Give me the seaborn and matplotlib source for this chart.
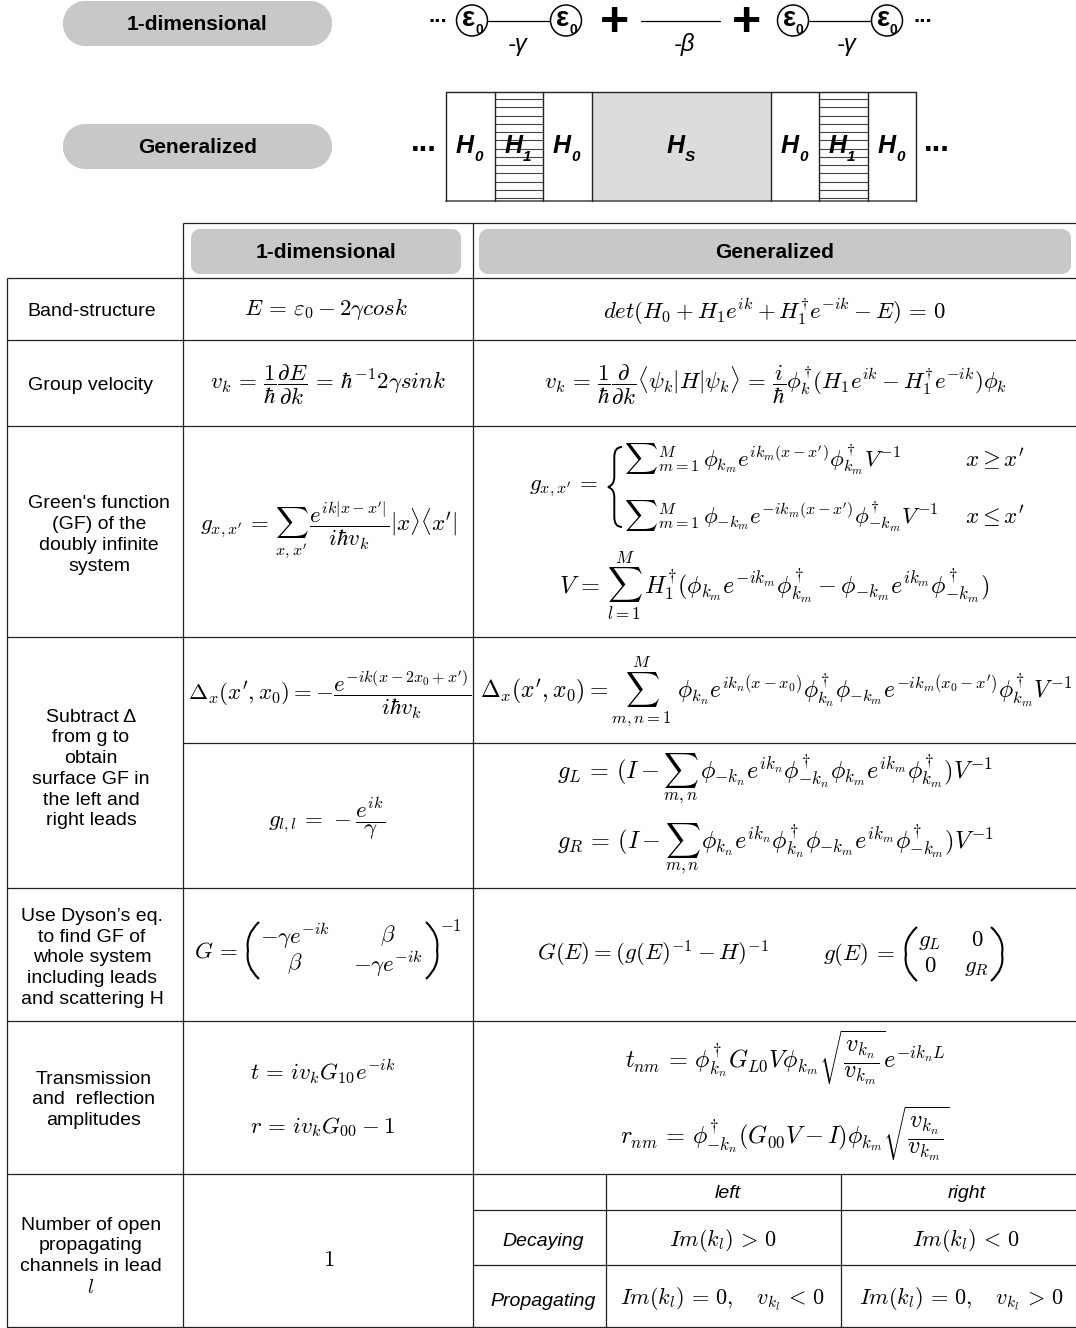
import matplotlib
matplotlib.use('Agg')
import matplotlib.pyplot as plt
import seaborn as sns
from matplotlib.patches import Circle, Rectangle, PathPatch
from matplotlib.path import Path

sns.set_theme(style='white')
plt.rcParams['font.family'] = ['Liberation Sans', 'DejaVu Sans']
plt.rcParams['mathtext.fontset'] = 'cm'

W, H = 1076, 1328

# row labels on the left of the table
row_labels = [
    (92, 311, 'Band-structure'),
    (91, 385, 'Group velocity'),
    (99, 535, "Green's function\n(GF) of the\ndoubly infinite\nsystem"),
    (91, 769, 'Subtract Δ\nfrom g to\nobtain\nsurface GF in\nthe left and\nright leads'),
    (92, 958, 'Use Dyson’s eq.\nto find GF of\nwhole system\nincluding leads\nand scattering H'),
    (94, 1100, 'Transmission\nand  reflection\namplitudes'),
    (91, 1257, 'Number of open\npropagating\nchannels in lead\n$\\mathit{l}$'),
]
pills = [
    (63, 1, 269, 45, 22, '1-dimensional'),
    (63, 124, 269, 45, 22, 'Generalized'),
]
headers = [
    (191, 229, 270, 45, 9, '1-dimensional'),
    (479, 229, 592, 45, 9, 'Generalized'),
]
# middle column equations: x, y, text, size
eq_1d = [
    (326, 309, r'$E\,=\,\varepsilon_0-2\gamma cosk$', 16.5),
    (328, 385, r'$v_k\,=\,\dfrac{1}{\hbar}\dfrac{\partial E}{\partial k}\,=\,\hbar^{-1}2\gamma sink$', 16.5),
    (329, 530, r"$g_{x,x'}\,=\,\sum_{x,x'}\,\dfrac{e^{ik|x-x'|}}{i\hbar v_k}|x\rangle\langle x'|$", 16.5),
    (330, 695, r"$\Delta_x(x',x_0)=-\dfrac{e^{-ik(x-2x_0+x')}}{i\hbar v_k}$", 16.5),
    (327, 819, r'$g_{l,l}\,=\,-\dfrac{e^{ik}}{\gamma}$', 16.5),
    (323, 1072, r'$t\,=\,iv_kG_{10}e^{-ik}$', 16.5),
    (322, 1127, r'$r\,=\,iv_kG_{00}-1$', 16.5),
    (329, 1260, r'$1$', 16.5),
]
# right column equations
eq_gen = [
    (775, 311, r'$det(H_0+H_1e^{ik}+H_1^{\dagger}e^{-ik}-E)\,=\,0$', 16.5),
    (775, 385, r'$v_k\,=\,\dfrac{1}{\hbar}\dfrac{\partial}{\partial k}\langle\psi_k|H|\psi_k\rangle\,=\,\dfrac{i}{\hbar}\phi_k^{\dagger}(H_1e^{ik}-H_1^{\dagger}e^{-ik})\phi_k$', 16.5),
    (563, 488, r"$g_{x,x'}\,=$", 16.5),
    (774, 586, r'$V\,=\,\sum_{l=1}^{M}\,H_1^{\dagger}(\phi_{k_m}e^{-ik_m}\phi_{k_m}^{\dagger}-\phi_{-k_m}e^{ik_m}\phi_{-k_m}^{\dagger})$', 17.5),
    (776, 692, r"$\Delta_x(x',x_0)=\sum_{m,n=1}^{M}\ \phi_{k_n}e^{ik_n(x-x_0)}\phi_{k_n}^{\dagger}\phi_{-k_m}e^{-ik_m(x_0-x')}\phi_{k_m}^{\dagger}V^{-1}$", 17),
    (775, 779, r'$g_L\,=\,(I-\sum_{m,n}\,\phi_{-k_n}e^{ik_n}\phi_{-k_n}^{\dagger}\phi_{k_m}e^{ik_m}\phi_{k_m}^{\dagger})V^{-1}$', 17.5),
    (775, 849, r'$g_R\,=\,(I-\sum_{m,n}\,\phi_{k_n}e^{ik_n}\phi_{k_n}^{\dagger}\phi_{-k_m}e^{ik_m}\phi_{-k_m}^{\dagger})V^{-1}$', 17.5),
    (653, 954, r'$G(E)=(g(E)^{-1}-H)^{-1}$', 16.5),
    (785, 1058, r'$t_{nm}\,=\,\phi_{k_n}^{\dagger}G_{L0}V\phi_{k_m}\sqrt{\dfrac{v_{k_n}}{v_{k_m}}}e^{-ik_nL}$', 17.5),
    (785, 1134, r'$r_{nm}\,=\,\phi_{-k_n}^{\dagger}(G_{00}V-I)\phi_{k_m}\sqrt{\dfrac{v_{k_n}}{v_{k_m}}}$', 17.5),
]
cases = [
    (624, 459, r"${\sum}_{m=1}^{M}\,\phi_{k_m}e^{ik_m(x-x')}\phi_{k_m}^{\dagger}V^{-1}$"),
    (624, 516, r"${\sum}_{m=1}^{M}\,\phi_{-k_m}e^{-ik_m(x-x')}\phi_{-k_m}^{\dagger}V^{-1}$"),
    (965, 459, r"$x\geq x'$"),
    (965, 516, r"$x\leq x'$"),
]
# lead table at the bottom right
lead_text = [
    (728, 1194, 'left'), (967, 1194, 'right'),
    (543, 1242, 'Decaying'), (543, 1301, 'Propagating'),
]
lead_eq = [
    (723, 1240, r'$Im(k_l)\,>\,0$'),
    (966, 1240, r'$Im(k_l)\,<\,0$'),
    (722, 1299, r'$Im(k_l)\,=\,0,\ \ \ v_{k_l}\,<\,0$'),
    (961, 1299, r'$Im(k_l)\,=\,0,\ \ \ v_{k_l}\,>\,0$'),
]

# table rules: y, x start, x end
h_rules = [
    (223, 183, W), (278, 7, W), (340, 7, W), (426, 7, W), (637, 7, W), (743, 183, W),
    (888, 7, W), (1021, 7, W), (1173.5, 7, W), (1210, 473, W), (1265, 473, W), (1327, 7, W),
]
v_rules = [(7, 278, 1328), (183, 223, 1328), (473, 223, 1328), (606, 1174, 1328), (841, 1174, 1328)]

# top diagram
site_x = [472, 566, 793, 887]
bonds = [(488, 551), (641, 720), (809, 872)]
bond_labels = [(518, 45, '-γ'), (684, 44, '-β'), (847, 45, '-γ')]
cell_edges = [446, 495, 543, 592, 771, 819, 868, 916]
cell_labels = [(470, '0'), (519, '1'), (567, '0'), (681, 'S'), (795, '0'), (843, '1'), (892, '0')]

fig = plt.figure(figsize=(W / 100, H / 100), dpi=100)
ax = fig.add_axes([0, 0, 1, 1])
ax.set_xlim(0, W)
ax.set_ylim(H, 0)
ax.axis('off')

GREY = '#c8c8c8'


def rounded(x, y, w, h, r):
    # box with real circular corners
    ax.add_patch(Rectangle((x + r, y), w - 2 * r, h, fc=GREY, ec='none'))
    ax.add_patch(Rectangle((x, y + r), w, h - 2 * r, fc=GREY, ec='none'))
    for cx in (x + r, x + w - r):
        for cy in (y + r, y + h - r):
            ax.add_patch(Circle((cx, cy), r, fc=GREY, ec='none'))


def brace(x, y0, y1, w=14):
    # left curly brace, x is the tip
    ym = (y0 + y1) / 2
    verts = [(x + w, y0), (x + w * 0.45, y0), (x + w * 0.45, y0 + 10),
             (x + w * 0.45, ym - 10), (x + w * 0.45, ym - 2), (x, ym),
             (x + w * 0.45, ym + 2), (x + w * 0.45, ym + 10),
             (x + w * 0.45, y1 - 10), (x + w * 0.45, y1), (x + w, y1)]
    codes = [Path.MOVETO] + [Path.CURVE3, Path.CURVE3] + [Path.LINETO] + [Path.CURVE3, Path.CURVE3] * 2 + [Path.LINETO] + [Path.CURVE3, Path.CURVE3]
    ax.add_patch(PathPatch(Path(verts, codes), fc='none', ec='black', lw=1.4))


def paren(x, y0, y1, w, left=True):
    # x is the outer edge of the bracket
    s = 1 if left else -1
    ym = (y0 + y1) / 2
    verts = [(x + s * w, y0), (x - s * w * 0.25, y0 + (ym - y0) * 0.45), (x, ym),
             (x - s * w * 0.25, y1 - (ym - y0) * 0.45), (x + s * w, y1)]
    codes = [Path.MOVETO, Path.CURVE3, Path.CURVE3, Path.CURVE3, Path.CURVE3]
    ax.add_patch(PathPatch(Path(verts, codes), fc='none', ec='black', lw=1.5))


for x, y, w, h, r, s in pills + headers:
    rounded(x, y, w, h, r)
    ax.text(x + w / 2, y + h / 2 + 1, s, ha='center', va='center', fontsize=15, fontweight='bold', color='black')

for y, x0, x1 in h_rules:
    ax.plot([x0, x1], [y, y], color='#222222', lw=0.9, solid_capstyle='butt')
for x, y0, y1 in v_rules:
    ax.plot([x, x], [y0, y1], color='#222222', lw=0.9, solid_capstyle='butt')

for x, y, s in row_labels:
    ax.text(x, y, s, ha='center', va='center', fontsize=14, linespacing=1.29, color='black')
for x, y, s, size in eq_1d + eq_gen:
    ax.text(x, y, s, ha='center', va='center', fontsize=size, color='black')
for x, y, s in cases:
    ax.text(x, y, s, ha='left', va='center', fontsize=16.5, color='black')
brace(608, 447, 527)
for x, y, s in lead_text:
    ax.text(x, y, s, ha='center', va='center', fontsize=14, style='italic', color='black')
for x, y, s in lead_eq:
    ax.text(x, y, s, ha='center', va='center', fontsize=16, color='black')

# matrices are set by hand, mathtext has no array
ax.text(216, 951, r'$G\,=$', ha='center', va='center', fontsize=16.5, color='black')
paren(248, 922, 979, 11)
paren(437, 922, 979, 11, left=False)
ax.text(295, 936, r'$-\gamma e^{-ik}$', ha='center', va='center', fontsize=16.5, color='black')
ax.text(388, 936, r'$\beta$', ha='center', va='center', fontsize=16.5, color='black')
ax.text(295, 964, r'$\beta$', ha='center', va='center', fontsize=16.5, color='black')
ax.text(388, 964, r'$-\gamma e^{-ik}$', ha='center', va='center', fontsize=16.5, color='black')
ax.text(451, 926, r'$-1$', ha='center', va='center', fontsize=12, color='black')
ax.text(859, 954, r'$g(E)\,=$', ha='center', va='center', fontsize=16.5, color='black')
paren(906, 927, 981, 11)
paren(1002, 927, 981, 11, left=False)
ax.text(930, 940, r'$g_L$', ha='center', va='center', fontsize=16.5, color='black')
ax.text(977, 940, r'$0$', ha='center', va='center', fontsize=16.5, color='black')
ax.text(930, 966, r'$0$', ha='center', va='center', fontsize=16.5, color='black')
ax.text(977, 966, r'$g_R$', ha='center', va='center', fontsize=16.5, color='black')

# top diagram, chain
for x in site_x:
    ax.add_patch(Circle((x, 20.5), 15.5, fc='white', ec='black', lw=1.1, zorder=3))
    ax.text(x + 3, 19, 'ε', ha='right', va='center', fontsize=20, fontweight='bold', color='black', zorder=4)
    ax.text(x + 3, 30, '0', ha='left', va='center', fontsize=10, fontweight='bold', color='black', zorder=4)
for x0, x1 in bonds:
    ax.plot([x0, x1], [21, 21], color='black', lw=0.9)
for x, y, s in bond_labels:
    ax.text(x, y, s, ha='center', va='center', fontsize=17, style='italic', color='black')
for x in [614, 747]:
    ax.text(x, 23, '+', ha='center', va='center', fontsize=36, fontweight='bold', color='black')
for x in [438, 923]:
    ax.text(x, 17, '...', ha='center', va='center', fontsize=16, fontweight='bold', color='black')
for x in [424, 937]:
    ax.text(x, 143, '...', ha='center', va='center', fontsize=22, fontweight='bold', color='black')

# top diagram, cells
ax.add_patch(Rectangle((592, 92), 179, 109, fc='#dcdcdc', ec='none'))
for i in [1, 5]:
    for k in range(13):
        y = 99 + k * 8.27
        ax.plot([cell_edges[i], cell_edges[i + 1]], [y, y], color='#444444', lw=0.8)
ax.plot([446, 916], [92, 92], color='#222222', lw=1)
ax.plot([446, 916], [201, 201], color='#444444', lw=1.1)
for x in cell_edges:
    ax.plot([x, x], [92, 201], color='#222222', lw=1)
for x, sub in cell_labels:
    ax.text(x + 4, 146, 'H', ha='right', va='center', fontsize=18, fontweight='bold', style='italic', color='black')
    ax.text(x + 4, 157, sub, ha='left', va='center', fontsize=11, fontweight='bold', style='italic', color='black')

fig.savefig('out.png', dpi=100)
